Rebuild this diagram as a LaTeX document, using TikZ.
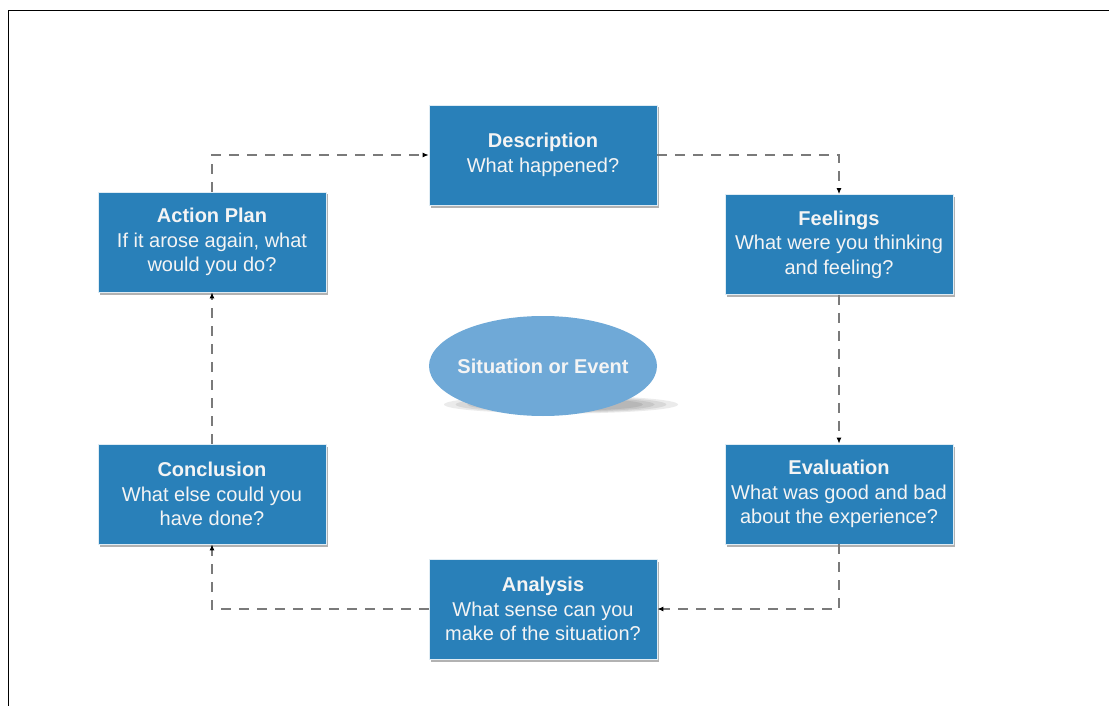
\documentclass[tikz,border=0pt]{standalone}
\usepackage{fontspec}
\setmainfont{Liberation Sans}
\usetikzlibrary{arrows.meta,shapes.geometric,shadows}
\definecolor{boxblue}{HTML}{2980B9}
\definecolor{ellblue}{HTML}{6FA9D7}
\definecolor{conngray}{HTML}{7A7A7A}
\definecolor{txtwhite}{HTML}{F4F4F4}
\begin{document}
\begin{tikzpicture}[x=1pt,y=-1pt,
  stepbox/.style={rectangle, fill=boxblue, draw=white!85!boxblue, line width=0.6pt,
    minimum width=228pt, minimum height=100pt, inner sep=0pt, align=center,
    text=txtwhite, font=\fontsize{20}{24.6}\selectfont,
    drop shadow={shadow xshift=1.5pt, shadow yshift=-2.5pt, fill=black, opacity=0.3}},
  conn/.style={draw=conngray, line width=1.6pt, dash pattern=on 10pt off 8pt,
    -{Latex[length=6pt,width=5pt,color=black]}}
]
\useasboundingbox (0,0) rectangle (1109,706);
\fill[white] (0,0) rectangle (1109,706);
\draw[line width=1.3pt] (1109,10.5) -- (8.5,10.5) -- (8.5,706);

% ellipse shadow
\foreach \o/\r in {0.08/1.0,0.08/0.9,0.08/0.8,0.08/0.7}{
  \fill[black, opacity=\o] (561,404.5) ellipse ({117*\r} and {9*\r});
}
\fill[ellblue] (543,366) ellipse (114 and 50);
\node[text=txtwhite, font=\fontsize{20}{24}\selectfont\bfseries, inner sep=0pt] (sit) at (543,366) {Situation or Event};

\node[stepbox] (desc) at (543,155) {\textbf{Description}\\What happened?};
\node[stepbox] (feel) at (839,244.5) {\textbf{Feelings}\\What were you thinking\\and feeling?};
\node[stepbox] (eval) at (839,494) {\textbf{Evaluation}\\What was good and bad\\about the experience?};
\node[stepbox] (anal) at (543,609) {\textbf{Analysis}\\What sense can you\\make of the situation?};
\node[stepbox] (concl) at (212,494) {\textbf{Conclusion}\\What else could you\\have done?};
\node[stepbox] (act) at (212,242) {\textbf{Action Plan}\\If it arose again, what\\would you do?};

\draw[conn] (desc.east) -| (feel.north);
\draw[conn] (feel.south) -- (eval.north);
\draw[conn] (eval.south) |- (anal.east);
\draw[conn] (anal.west) -| (concl.south);
\draw[conn] (concl.north) -- (act.south);
\draw[conn] (act.north) |- (desc.west);
\end{tikzpicture}
\end{document}
